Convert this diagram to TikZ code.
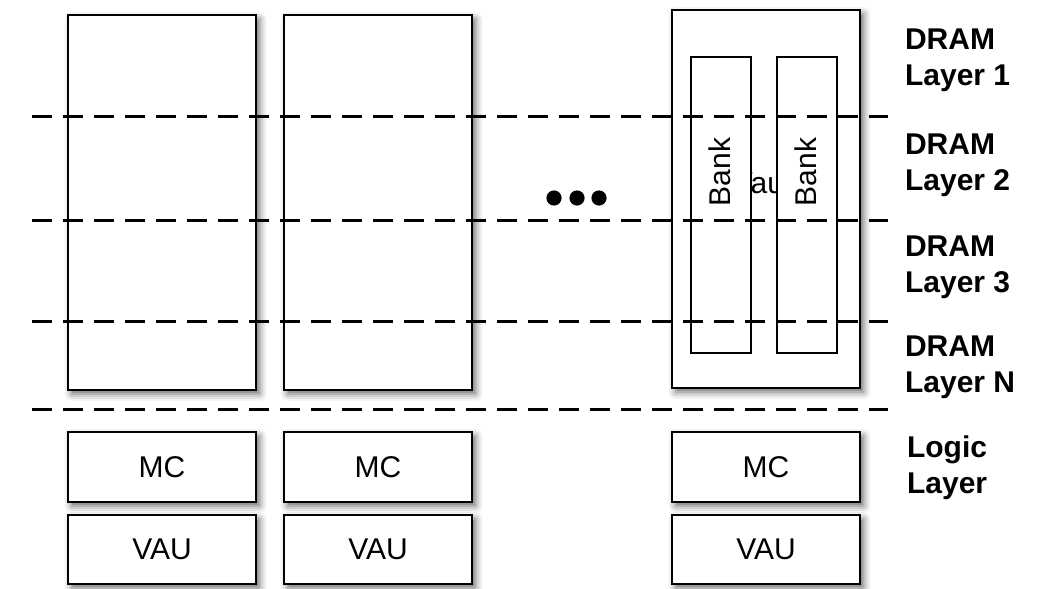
\documentclass[tikz,border=0pt]{standalone}
\usepackage{fontspec}
\setmainfont{Liberation Sans}
\usetikzlibrary{shadows.blur}

\begin{document}
\begin{tikzpicture}[x=0.5pt,y=-0.5pt,
  font=\fontsize{15}{18}\selectfont,
  chip/.style={draw, line width=1pt, fill=white, inner sep=0pt, minimum width=94pt,
    blur shadow={shadow xshift=1.8pt, shadow yshift=-2pt, shadow blur radius=3.5pt, shadow opacity=60}},
  bankbox/.style={draw, line width=0.8pt, fill=white, inner sep=0pt, minimum width=30pt, minimum height=148pt},
  layerlab/.style={anchor=west, align=left, font=\fontsize{15}{18}\selectfont\bfseries},
  sep/.style={dashed, dash pattern=on 10pt off 5.5pt, line width=1.5pt}]
\useasboundingbox (0,0) rectangle (1037,588);

% vault columns
\node[chip, minimum height=187.5pt] (v1) at (162,202.5) {};
\node[chip, minimum height=187.5pt] (v2) at (378,202.5) {};
\node[chip, minimum height=189pt] (v3) at (766,199) {};
\node[anchor=base] (vlt) at (766,193) {Vault};
\node[bankbox] (b1) at (721,205) {};
\node[bankbox] (b2) at (807,205) {};
\node[rotate=90] (t1) at (720,172) {Bank};
\node[rotate=90] (t2) at (806,172) {Bank};

% logic layer
\node[chip, minimum height=35pt] (mc1) at (162,467) {MC};
\node[chip, minimum height=35pt] (mc2) at (378,467) {MC};
\node[chip, minimum height=35pt] (mc3) at (766,467) {MC};
\node[chip, minimum height=34.5pt] (vau1) at (162,549.5) {VAU};
\node[chip, minimum height=34.5pt] (vau2) at (378,549.5) {VAU};
\node[chip, minimum height=34.5pt] (vau3) at (766,549.5) {VAU};

% layer boundaries
\foreach \y in {117,220,321,409}
  \draw[sep] (32,\y) -- (888,\y);

% more vaults
\foreach \x [count=\i] in {554,577,599}
  \fill (\x,198) circle (3.8pt);

\node[layerlab] (l1) at (898,60) {DRAM\\Layer 1};
\node[layerlab] (l2) at (898,165) {DRAM\\Layer 2};
\node[layerlab] (l3) at (898,267) {DRAM\\Layer 3};
\node[layerlab] (ln) at (898,367) {DRAM\\Layer N};
\node[layerlab] (lg) at (900,468) {Logic\\Layer};
\end{tikzpicture}
\end{document}
